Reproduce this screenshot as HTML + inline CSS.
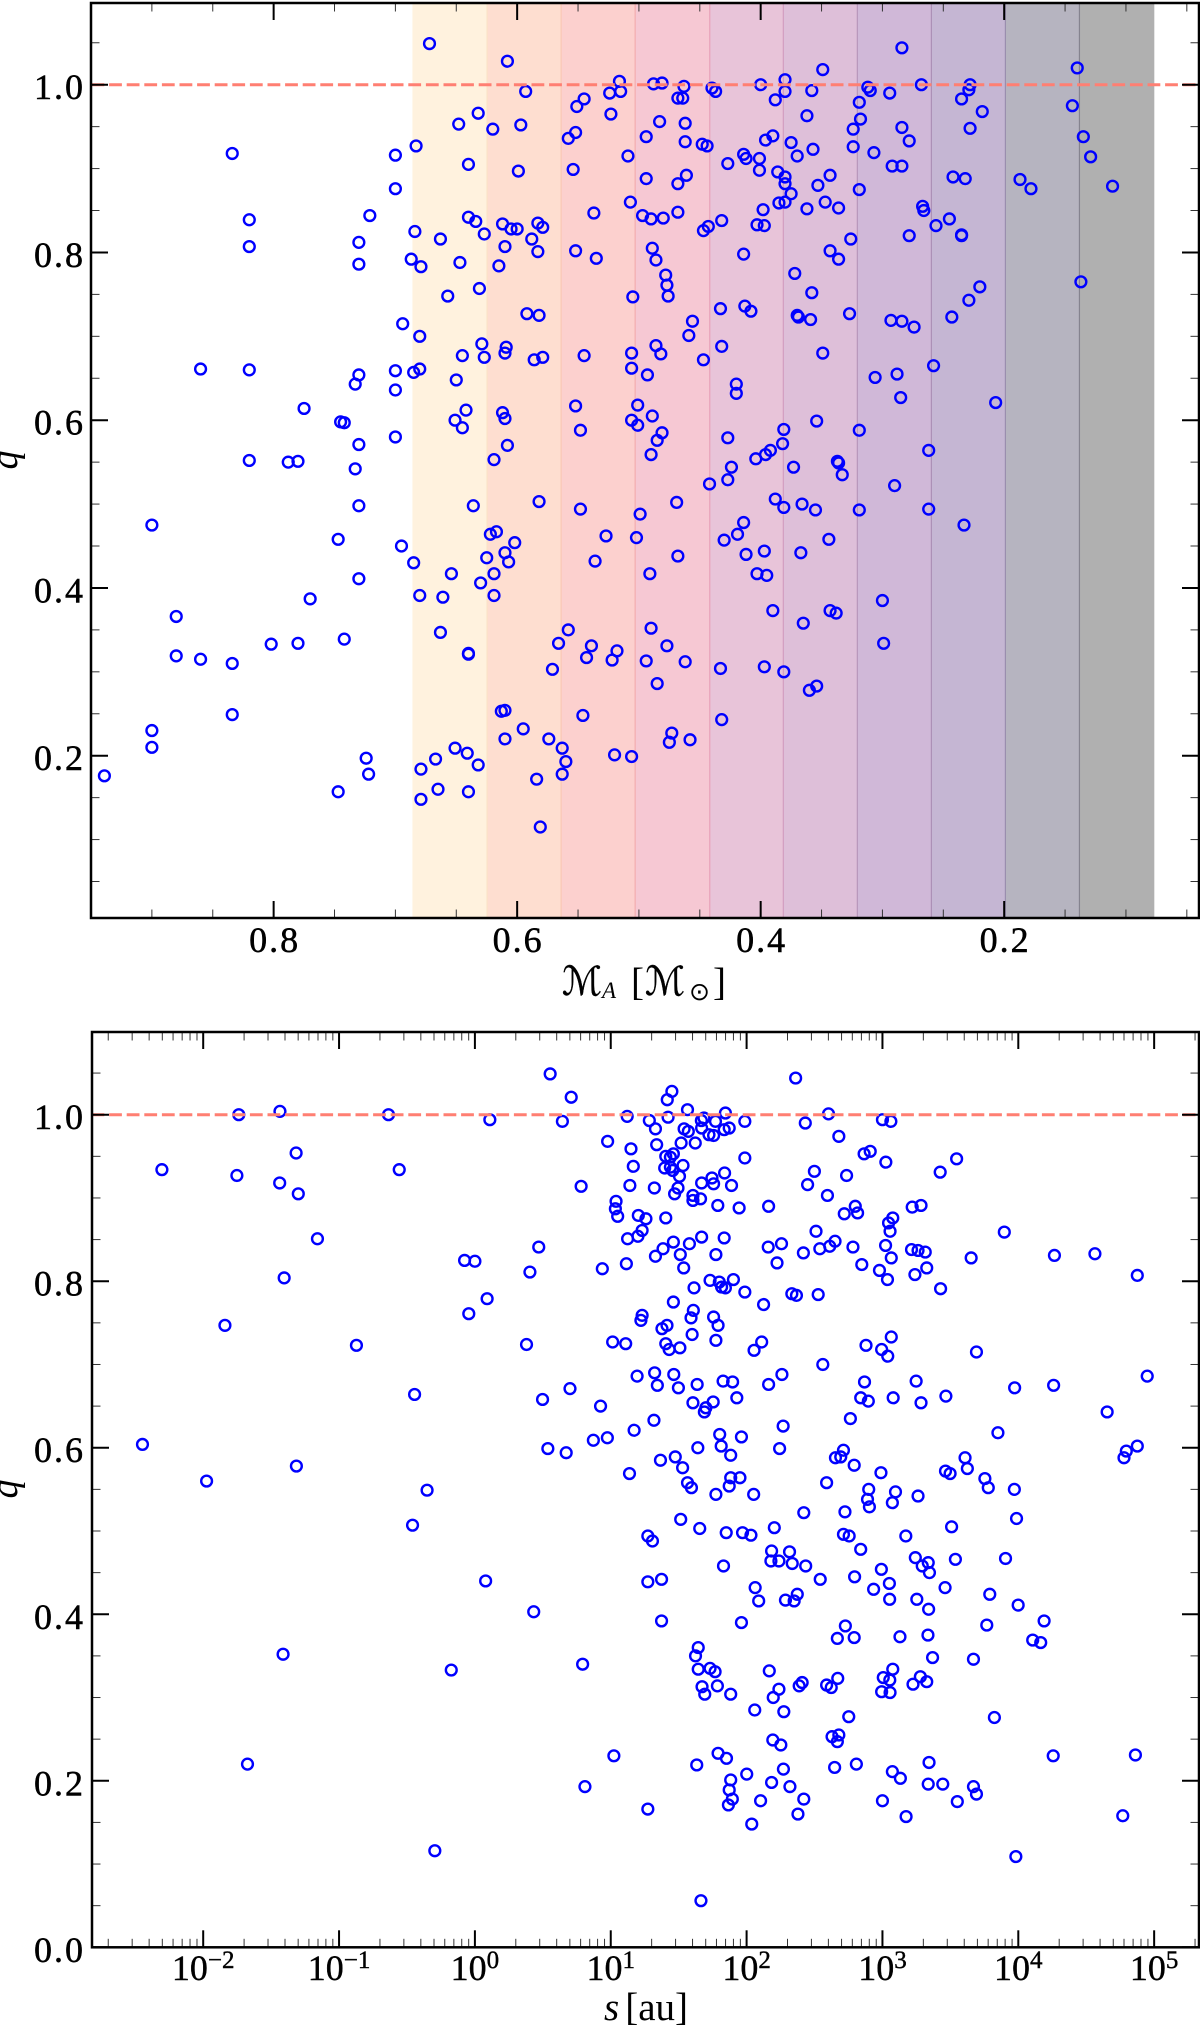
<!DOCTYPE html>
<html lang="en">
<head>
<meta charset="utf-8">
<title>q versus primary mass and separation</title>
<style>
html,body{margin:0;padding:0;background:#fff;}
body{width:1200px;height:2027px;overflow:hidden;}
svg{display:block;}
text{font-family:"Liberation Serif","DejaVu Serif",serif;fill:#000;}
</style>
</head>
<body>
<svg id="chart" xmlns="http://www.w3.org/2000/svg" width="1200" height="2027" viewBox="0 0 1200 2027">
  <rect x="0" y="0" width="1200" height="2027" fill="#fff"/>
  <g id="top-panel"></g>
  <g id="bottom-panel"></g>
  <text transform="translate(17,460) rotate(-90)" text-anchor="middle" font-size="38" font-style="italic">q</text>
  <text transform="translate(17,1489) rotate(-90)" text-anchor="middle" font-size="38" font-style="italic">q</text>
  <g>
    <text x="562" y="995" font-size="40" font-style="italic" textLength="40" lengthAdjust="spacingAndGlyphs" stroke="#000" stroke-width="0.4" style="font-family:'DejaVu Serif','DejaVu Sans',serif">ℳ</text>
    <text x="602" y="998" font-size="23" font-style="italic">A</text>
    <text x="631" y="995" font-size="39">[</text>
    <text x="645" y="995" font-size="40" font-style="italic" textLength="40" lengthAdjust="spacingAndGlyphs" stroke="#000" stroke-width="0.4" style="font-family:'DejaVu Serif','DejaVu Sans',serif">ℳ</text>
    <text x="689" y="1000" font-size="25" style="font-family:'DejaVu Sans',sans-serif">⊙</text>
    <text x="726" y="995" font-size="39" text-anchor="end">]</text>
  </g>
  <g>
    <text x="604" y="2020" font-size="39" font-style="italic">s</text>
    <text x="688" y="2020" font-size="39" text-anchor="end">[au]</text>
  </g>
</svg>
<script>
// ---- Top panel data: primary mass and mass ratio ----
const massA = [
0.672,0.608,0.593,0.545,0.551,0.552,0.558,0.554,0.632,0.648,0.620,0.597,0.834,0.683,0.700,0.640,0.599,0.700,0.820,0.721,
0.640,0.634,0.612,0.605,0.600,0.583,0.579,0.537,0.684,0.627,0.663,0.588,0.730,0.820,0.610,0.583,0.552,0.687,0.679,0.730,
0.647,0.615,0.535,0.631,0.657,0.592,0.582,0.694,0.680,0.629,0.609,0.610,0.645,0.627,0.586,0.579,0.545,0.860,0.820,0.680,
0.685,0.700,0.730,0.733,0.700,0.650,0.775,0.642,0.552,0.745,0.742,0.651,0.612,0.610,0.645,0.548,0.700,0.730,0.608,0.820,
0.788,0.780,0.619,0.733,
0.730,0.636,0.582,0.548,0.900,0.747,0.617,0.622,0.602,0.695,0.610,0.625,0.685,0.607,0.536,0.654,0.619,0.630,0.730,
0.680,0.661,0.619,0.770,0.880,0.663,0.742,0.558,0.566,0.539,0.543,0.780,0.802,0.880,0.860,0.834,0.640,0.640,0.571,0.834,
0.610,0.613,0.546,0.900,0.900,0.595,0.610,0.574,0.651,0.641,0.563,0.724,0.667,0.560,0.632,0.679,0.939,0.722,0.563,0.584,
0.665,0.747,0.640,0.679,0.581,
0.516,0.524,0.515,0.523,0.488,0.481,0.463,0.468,0.464,0.483,0.462,0.494,0.462,0.448,0.444,0.509,0.440,0.437,0.400,0.380,
0.380,0.388,0.358,0.349,0.362,0.375,0.390,0.396,0.370,0.357,0.414,0.412,0.401,0.427,0.401,0.386,0.380,0.380,0.494,0.468,
0.461,0.353,0.343,0.375,0.385,0.380,0.347,0.362,0.336,0.398,0.507,0.497,0.490,0.480,0.468,0.432,0.443,0.447,0.403,0.397,
0.414,0.489,0.486,0.478,0.477,0.476,0.505,0.433,0.413,0.408,0.456,0.459,0.486,0.482,0.506,0.506,0.493,0.432,0.447,0.420,
0.420,0.501,0.489,0.506,0.501,0.481,0.485,0.490,0.427,0.381,0.382,0.392,0.396,0.404,0.424,0.427,0.442,0.373,0.354,0.337,
0.336,0.333,0.469,0.388,0.366,0.381,0.355,0.319,0.262,0.233,0.290,
0.312,0.310,0.319,0.294,0.268,0.284,0.318,0.324,0.324,0.307,0.284,0.278,0.292,0.284,0.319,0.228,0.229,0.235,0.218,0.228,
0.242,0.232,0.267,0.266,0.245,0.256,0.235,0.235,0.278,0.326,0.343,0.336,0.372,0.358,0.220,0.229,0.243,0.327,0.370,0.369,
0.359,0.293,0.284,0.274,0.349,0.258,0.306,0.288,0.285,0.207,0.319,0.262,
0.187,0.178,0.140,0.144,0.135,0.129,0.111,0.137,
0.499,0.527,0.502,0.468,0.491,0.414,0.419,0.430,0.397,0.412,0.367,0.344,0.403,0.395,0.300,0.390,0.343,0.338,0.365,0.299,
0.490,0.477,0.518,0.522,0.494,0.462,0.433,0.397,0.381,0.485,0.354,0.360,0.432,0.473,0.475,0.458,0.520,0.506
];
const massRatioTop = [
1.049,1.028,0.992,0.983,0.974,0.943,0.936,0.899,0.966,0.953,0.947,0.952,0.918,0.927,0.916,0.905,0.897,0.876,0.839,0.844,
0.842,0.837,0.834,0.828,0.828,0.835,0.830,0.847,0.825,0.822,0.816,0.816,0.812,0.807,0.807,0.801,0.802,0.792,0.783,0.786,
0.788,0.784,0.793,0.757,0.748,0.727,0.725,0.715,0.700,0.691,0.687,0.680,0.677,0.675,0.672,0.675,0.677,0.661,0.660,0.661,
0.657,0.659,0.654,0.643,0.636,0.648,0.614,0.612,0.617,0.598,0.597,0.600,0.609,0.602,0.591,0.588,0.580,0.571,0.570,0.552,
0.550,0.551,0.553,0.542,
0.498,0.498,0.503,0.494,0.475,0.458,0.467,0.464,0.454,0.450,0.442,0.436,0.430,0.431,0.432,0.417,0.417,0.406,0.411,
0.391,0.389,0.391,0.387,0.366,0.347,0.339,0.350,0.334,0.331,0.317,0.334,0.333,0.319,0.315,0.310,0.322,0.321,0.303,0.249,
0.254,0.253,0.248,0.230,0.210,0.232,0.220,0.220,0.209,0.203,0.209,0.197,0.196,0.193,0.189,0.184,0.176,0.178,0.178,0.172,
0.160,0.157,0.157,0.148,0.115,
1.004,0.990,0.992,0.965,1.001,1.002,0.998,0.984,0.984,0.956,0.954,0.938,0.932,0.929,0.927,0.915,0.996,0.992,1.000,1.006,
0.992,0.982,0.993,1.018,0.963,0.931,0.939,0.934,0.915,0.923,0.917,0.912,0.912,0.906,0.898,0.896,0.890,0.882,0.888,0.882,
0.892,0.880,0.892,0.870,0.859,0.860,0.860,0.852,0.853,0.851,0.860,0.844,0.840,0.841,0.848,0.838,0.831,0.826,0.833,0.832,
0.798,0.805,0.791,0.773,0.761,0.748,0.747,0.733,0.736,0.730,0.718,0.701,0.689,0.679,0.680,0.662,0.654,0.688,0.672,0.643,
0.632,0.618,0.605,0.600,0.594,0.585,0.576,0.559,0.579,0.589,0.572,0.564,0.559,0.554,0.544,0.529,0.524,0.544,0.599,0.551,
0.549,0.535,0.502,0.506,0.500,0.496,0.493,0.493,0.494,0.475,0.522,
0.997,0.993,0.979,0.990,1.000,1.044,0.959,0.947,0.926,0.919,0.949,0.933,0.903,0.903,0.875,1.000,0.994,0.983,0.968,0.948,
0.890,0.888,0.855,0.850,0.840,0.832,0.821,0.820,0.820,0.816,0.802,0.792,0.775,0.752,0.759,0.743,0.723,0.727,0.725,0.723,
0.720,0.719,0.718,0.711,0.680,0.665,0.651,0.655,0.627,0.621,0.588,0.564,
0.887,0.876,1.020,0.975,0.938,0.914,0.879,0.765,
0.488,0.462,0.460,0.438,0.417,0.478,0.464,0.457,0.444,0.440,0.442,0.458,0.417,0.415,0.385,0.373,0.373,0.370,0.358,0.334,
0.352,0.331,0.325,0.314,0.313,0.312,0.304,0.306,0.300,0.286,0.283,0.278,0.243,0.227,0.216,0.219,0.201,0.199
];
const spectralBandEdges = [0.686,0.6247,0.5639,0.5031,0.4418,0.3814,0.3206,0.2598,0.199,0.1382,0.0767];
const topXMajorTicks = [0.8,0.6,0.4,0.2];
const topXMinorTicks = [0.95,0.9,0.85,0.75,0.7,0.65,0.55,0.5,0.45,0.35,0.3,0.25,0.15,0.1,0.05];
const topYMajorTicks = [1.0,0.8,0.6,0.4,0.2];
const topYMinorTicks = [1.05,0.95,0.9,0.85,0.75,0.7,0.65,0.55,0.5,0.45,0.35,0.3,0.25,0.15,0.1,0.05];

// ---- Bottom panel data: log10 of separation in au and mass ratio ----
const logSeparation = [
-2.304,-1.738,-1.435,-1.316,-1.752,-1.437,-1.300,-1.159,-1.404,-1.840,-0.872,-0.636,-0.557,0.110,0.554,0.709,0.644,0.782,0.470,0.405,
-0.076,0.000,0.090,-0.045,0.380,-0.444,0.498,0.700,0.925,-2.447,0.537,0.672,0.872,-1.314,-1.975,-0.352,
-0.459,0.079,0.433,-1.412,-0.174,0.793,-1.674,0.810,-0.295,
2.361,1.450,1.416,1.565,1.121,1.422,1.284,1.329,1.686,1.667,1.771,1.844,1.987,1.540,1.571,1.669,1.835,1.872,1.723,1.757,
0.977,1.149,1.338,1.518,1.622,1.461,1.405,1.439,1.987,1.166,1.532,1.397,1.439,1.456,1.506,1.838,1.745,1.757,1.669,1.889,
1.141,1.321,1.495,1.470,1.605,1.605,1.661,1.039,1.034,1.051,1.788,1.945,2.162,1.203,1.259,1.405,1.231,1.200,1.124,1.461,
1.579,1.669,1.835,1.385,1.512,1.329,1.774,1.115,0.938,1.537,1.731,1.799,1.816,1.844,1.903,1.613,1.987,1.461,2.125,2.333,
2.367,2.527,1.231,1.222,1.608,1.591,1.757,1.790,1.414,1.377,1.599,1.774,1.014,1.110,1.405,1.430,1.509,2.055,2.111,1.194,
1.323,1.464,1.343,1.498,1.636,1.827,1.897,2.162,2.260,1.605,1.754,1.700,1.689,1.928,1.318,1.172,0.975,1.802,1.813,1.962,
1.641,1.883,1.475,1.529,1.366,1.138,1.565,1.594,1.883,1.951,1.872,1.774,2.052,2.269,2.243,1.515,
2.511,2.499,2.449,2.595,2.432,2.603,2.679,2.736,2.865,2.910,3.025,3.000,3.062,3.425,3.546,2.800,2.817,2.719,3.076,3.045,
3.056,3.219,3.284,3.897,2.651,2.612,2.539,2.418,2.159,2.257,2.224,2.783,3.023,3.065,2.848,2.978,3.037,3.214,3.262,3.315,
3.326,3.239,3.428,3.653,4.266,4.564,4.876,3.065,2.879,2.994,3.039,3.692,2.561,4.949,2.868,3.248,3.973,4.260,2.840,2.896,
3.079,3.284,3.467,4.654,2.764,3.850,2.713,2.654,2.693,2.792,2.989,3.608,3.464,3.498,3.625,3.754,3.779,3.971,4.795,4.778,
4.876,2.589,2.899,2.890,2.904,3.096,3.073,3.262,2.421,2.724,3.987,
1.273,1.307,1.655,1.850,1.970,2.032,2.204,2.713,2.755,3.172,3.509,2.840,2.184,2.316,2.179,2.238,2.336,2.435,3.242,3.337,
3.293,3.537,3.346,3.906,2.992,1.830,1.273,1.374,2.542,2.795,3.051,2.935,3.461,2.063,2.089,2.373,2.350,2.286,3.053,3.253,
3.340,3.790,3.999,1.374,1.962,3.768,4.190,2.727,2.668,2.792,3.129,3.335,4.106,4.165,1.644,1.624,3.369,3.670,1.644,1.731,
1.768,2.167,3.076,3.006,3.054,3.279,3.326,3.225,2.671,2.589,2.623,2.409,2.387,1.672,1.785,1.692,1.883,2.238,2.196,2.994,
3.056,2.060,2.274,2.752,3.824,2.193,2.252,2.629,2.679,2.668,1.023,1.790,1.852,4.257,4.862,1.633,2.271,2.808,2.648,3.343,
2.001,3.073,3.132,1.883,2.184,3.337,3.444,2.319,1.872,3.670,3.692,1.895,1.866,2.103,2.421,3.000,3.551,1.273,2.378,3.174,
4.769,2.038,3.982,1.664
];
const massRatioBottom = [
0.934,1.000,1.004,0.954,0.927,0.918,0.905,0.851,0.804,0.747,0.723,1.000,0.934,0.994,1.049,1.021,0.992,0.914,0.841,0.811,
0.825,0.824,0.779,0.761,0.724,0.664,0.658,0.671,0.650,0.604,0.599,0.594,0.609,0.578,0.560,0.549,
0.507,0.440,0.403,0.352,0.333,0.340,0.220,0.193,0.116,
1.044,1.028,1.018,1.006,0.998,0.997,0.993,0.983,0.996,0.993,0.992,1.002,0.992,0.983,0.980,0.984,0.982,0.984,0.976,0.975,
0.968,0.959,0.964,0.966,0.966,0.953,0.950,0.949,0.948,0.938,0.939,0.936,0.937,0.933,0.926,0.930,0.924,0.917,0.918,0.915,
0.915,0.912,0.912,0.905,0.903,0.897,0.899,0.896,0.887,0.878,0.891,0.888,0.890,0.879,0.875,0.876,0.861,0.854,0.851,0.847,
0.845,0.853,0.852,0.839,0.832,0.830,0.832,0.821,0.815,0.816,0.801,0.799,0.793,0.792,0.802,0.792,0.787,0.775,0.772,0.785,
0.783,0.784,0.759,0.753,0.765,0.756,0.757,0.747,0.747,0.743,0.736,0.729,0.727,0.725,0.725,0.718,0.720,0.717,0.727,0.686,
0.690,0.688,0.675,0.672,0.676,0.680,0.679,0.676,0.688,0.654,0.655,0.648,0.643,0.660,0.633,0.621,0.612,0.616,0.602,0.613,
0.600,0.591,0.589,0.576,0.585,0.569,0.558,0.552,0.564,0.564,0.554,0.544,0.544,0.626,0.599,0.514,
0.860,0.932,0.916,0.903,0.990,1.001,0.974,0.927,0.953,0.956,0.943,0.994,0.992,0.931,0.947,0.890,0.882,0.881,0.876,0.870,
0.860,0.889,0.891,0.859,0.848,0.842,0.839,0.834,0.841,0.845,0.822,0.841,0.843,0.828,0.820,0.813,0.802,0.838,0.837,0.835,
0.816,0.808,0.791,0.828,0.831,0.833,0.807,0.733,0.723,0.718,0.710,0.715,0.700,0.686,0.679,0.680,0.672,0.675,0.660,0.656,
0.660,0.654,0.662,0.643,0.635,0.618,0.597,0.588,0.589,0.579,0.570,0.588,0.572,0.569,0.575,0.563,0.552,0.550,0.596,0.588,
0.602,0.558,0.550,0.538,0.529,0.547,0.534,0.542,0.522,0.523,0.515,
0.494,0.488,0.503,0.498,0.498,0.495,0.504,0.496,0.494,0.494,0.505,0.478,0.476,0.475,0.464,0.464,0.461,0.458,0.468,0.462,
0.458,0.466,0.450,0.467,0.454,0.458,0.439,0.442,0.442,0.445,0.437,0.430,0.432,0.432,0.416,0.424,0.416,0.417,0.418,0.418,
0.406,0.424,0.411,0.392,0.390,0.387,0.392,0.386,0.371,0.372,0.373,0.375,0.369,0.366,0.360,0.350,0.348,0.346,0.334,0.335,
0.331,0.332,0.334,0.324,0.321,0.325,0.319,0.316,0.323,0.315,0.312,0.318,0.314,0.313,0.314,0.304,0.304,0.310,0.300,0.307,
0.306,0.285,0.283,0.277,0.276,0.249,0.243,0.253,0.255,0.247,0.230,0.233,0.227,0.230,0.231,0.219,0.214,0.220,0.216,0.222,
0.208,0.211,0.203,0.201,0.198,0.196,0.196,0.193,0.189,0.193,0.184,0.178,0.171,0.176,0.178,0.176,0.175,0.166,0.160,0.157,
0.158,0.148,0.109,0.056
];
const bottomXExponents = [-2,-1,0,1,2,3,4,5];
const bottomYMajorTicks = [1.0,0.8,0.6,0.4,0.2,0.0];
const bottomYMinorTicks = [1.05,0.95,0.9,0.85,0.75,0.7,0.65,0.55,0.5,0.45,0.35,0.3,0.25,0.15,0.1,0.05];
const logMinorMultipliers = [2,3,4,5,6,7,8,9];
const referenceRatio = 1.0;
const bandFills = ['#fff2de','#feded0','#fcd0ce','#f6c8d3','#e8c4d9','#debfd9','#d0b8d8','#c5b6d3','#b6b4c0','#b0b0b0'];
const bandEdgeColors = ['#fbe2c6','#fac8b4','#f4aeae','#e8a2b8','#d29ec0','#b897bb','#ac90b6','#9a8eae','#85838f','#b0b0b0'];

const NS = 'http://www.w3.org/2000/svg';
const L = 91, R = 1199;
const formatTick = v => v.toFixed(1);

function add(parent, tag, attrs, text) {
  const el = document.createElementNS(NS, tag);
  for (const k in attrs) el.setAttribute(k, attrs[k]);
  if (text !== undefined) el.textContent = text;
  parent.appendChild(el);
  return el;
}

// Axis scales
const topX = m => L + (0.95 - m) / (0.95 - 0.04) * (R - L);
const topY = q => 84.7 + (1 - q) * 838.75;
const botX = l => 203.2 + (l + 2) * 135.85;
const botY = q => 1947.3 - q * 832.6;

const topPanel = document.getElementById('top-panel');
const bottomPanel = document.getElementById('bottom-panel');

// Spectral-type bands
spectralBandEdges.slice(0, -1).forEach((edge, i) => {
  const x0 = topX(edge), x1 = topX(spectralBandEdges[i + 1]);
  const band = add(topPanel, 'rect', {x: x0, y: 3, width: x1 - x0, height: 915, fill: bandFills[i]});
  
  
});
spectralBandEdges.slice(1, -1).forEach((edge, i) => {
  const boundary = add(topPanel, 'line', {x1: topX(edge), x2: topX(edge), y1: 3, y2: 918, stroke: bandEdgeColors[i], 'stroke-width': 1.2});
  
  
});

// Points
function drawPoints(parent, xs, ys, fx, fy) {
  xs.forEach((v, i) => {
    const pt = add(parent, 'circle', {cx: fx(v), cy: fy(ys[i]), r: 5.4, fill: 'none', stroke: '#0000ff', 'stroke-width': 2.4});
    
    
  });
}
drawPoints(topPanel, massA, massRatioTop, topX, topY);
drawPoints(bottomPanel, logSeparation, massRatioBottom, botX, botY);

// Reference lines
function drawReference(parent, y) {
  const ref = add(parent, 'line', {x1: L, x2: R, y1: y, y2: y, stroke: '#ff7f72', 'stroke-width': 3, 'stroke-dasharray': '12.8 4.8', 'stroke-dashoffset': -0.5});
  
  
}
drawReference(topPanel, topY(referenceRatio));
drawReference(bottomPanel, botY(referenceRatio));

// Ticks
function tick(parent, x1, y1, x2, y2, major) {
  const t = add(parent, 'line', {x1, y1, x2, y2, stroke: major ? '#000' : '#333', 'stroke-width': major ? 2 : 1});
  
  
}
function yTicks(parent, list, fy, major, left, right) {
  const len = major ? 17 : 8.5;
  list.forEach(q => {
    tick(parent, left, fy(q), left + len, fy(q), major);
    tick(parent, right, fy(q), right - len, fy(q), major);
  });
}
function xTicks(parent, list, fx, major, top, bottom) {
  const len = major ? 17 : 8.5;
  list.forEach(v => {
    tick(parent, fx(v), top, fx(v), top + len, major);
    tick(parent, fx(v), bottom, fx(v), bottom - len, major);
  });
}
function frame(parent, x, y, w, h) {
  const f = add(parent, 'rect', {x, y, width: w, height: h, fill: 'none', stroke: '#000', 'stroke-width': 2.5});
  
  
}
function yLabels(parent, list, fy) {
  list.forEach(q => {
    const lab = add(parent, 'text', {x: 85, y: fy(q) + 14.5, 'text-anchor': 'end', 'font-size': 36, 'letter-spacing': 2, stroke: '#000', 'stroke-width': 0.5}, formatTick(q));
    
    
  });
}

xTicks(topPanel, topXMajorTicks, topX, true, 3, 918);
xTicks(topPanel, topXMinorTicks, topX, false, 3, 918);
yTicks(topPanel, topYMajorTicks, topY, true, L, R);
yTicks(topPanel, topYMinorTicks, topY, false, L, R);
frame(topPanel, L, 3, R - L, 915);
yLabels(topPanel, topYMajorTicks, topY);
topXMajorTicks.forEach(m => {
  const lab = add(topPanel, 'text', {x: topX(m) + 1, y: 952, 'text-anchor': 'middle', 'font-size': 36, 'letter-spacing': 2, stroke: '#000', 'stroke-width': 0.5}, formatTick(m));
  
  
});

const bottomMinor = [];
for (let e = -3; e <= 5; e++) {
  logMinorMultipliers.forEach(m => {
    const l = e + Math.log10(m);
    if (l > -2.82 && l < 5.33) bottomMinor.push(l);
  });
}
xTicks(bottomPanel, bottomXExponents, botX, true, 1032, 1947.3);
xTicks(bottomPanel, bottomMinor, botX, false, 1032, 1947.3);
yTicks(bottomPanel, bottomYMajorTicks, botY, true, L + 1, R);
yTicks(bottomPanel, bottomYMinorTicks, botY, false, L + 1, R);
frame(bottomPanel, L + 1, 1032, R - L - 1, 915.3);
yLabels(bottomPanel, bottomYMajorTicks, botY);
bottomXExponents.forEach(e => {
  const lab = add(bottomPanel, 'text', {x: botX(e), y: 1980, 'text-anchor': 'middle', 'font-size': 36, stroke: '#000', 'stroke-width': 0.4}, '10');
  
  
  const sup = add(lab, 'tspan', {dy: -12, 'font-size': 25}, String(e).replace('-', '\u2212'));
  
  
});
</script>
</body>
</html>
